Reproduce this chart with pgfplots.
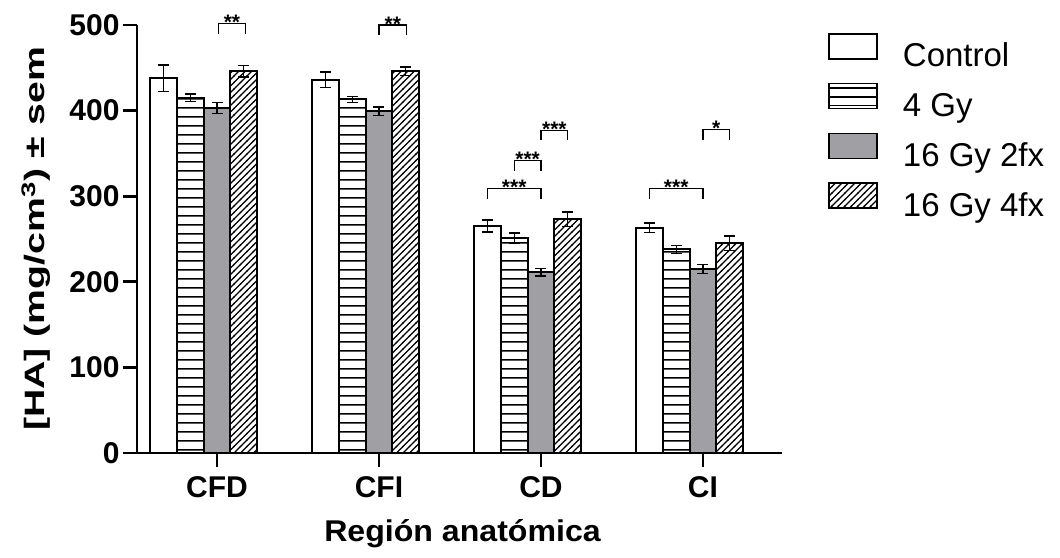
\documentclass[border=0pt]{standalone}
\usepackage{pgfplots}
\pgfplotsset{compat=1.18}
\usepackage{pgfplotstable}
\usepackage{fontspec}
\setmainfont{Liberation Sans}
\usetikzlibrary{patterns}
\definecolor{bargray}{RGB}{160,160,164}

\pgfdeclarepatternformonly{hlinesw}{\pgfqpoint{0pt}{0pt}}{\pgfqpoint{300pt}{8.6pt}}{\pgfqpoint{300pt}{8.6pt}}{%
  \pgfsetlinewidth{1.6pt}%
  \pgfpathmoveto{\pgfqpoint{-1pt}{4.3pt}}\pgfpathlineto{\pgfqpoint{301pt}{4.3pt}}\pgfusepath{stroke}}
\pgfdeclarepatternformonly{nelinesw}{\pgfqpoint{-1pt}{-1pt}}{\pgfqpoint{7.5pt}{7.5pt}}{\pgfqpoint{6.5pt}{6.5pt}}{%
  \pgfsetlinewidth{1.4pt}%
  \pgfpathmoveto{\pgfqpoint{-0.4pt}{-0.4pt}}\pgfpathlineto{\pgfqpoint{6.9pt}{6.9pt}}\pgfusepath{stroke}}

\pgfplotstableread{
x c ce ga gae gb gbe gc gce
0 438 15.5 415 4.3 403 6.5 446 6.7
1 436 9 413 3.5 399 5 446 4.7
2 265 7 251 5.8 211 4.3 273 8.5
3 263 5.5 238 4.7 215 5.2 245 8.4
}\datatable

\pgfplotsset{
  errstyle/.style={
    error bars/.cd, y dir=both, y explicit,
    error bar style={line width=1.5pt, black},
    error mark options={rotate=90, line width=1.5pt, mark size=5.5pt, black}},
  bracket/.style={forget plot, sharp plot, no marks, black, line width=1.5pt},
}

\begin{document}
\begin{tikzpicture}
\useasboundingbox (-137pt,-104pt) rectangle (923pt,453pt);
\begin{axis}[
 at={(0pt,0pt)}, anchor=south west,
 scale only axis, width=645pt, height=428pt,
 xmin=-0.494, xmax=3.488, ymin=0, ymax=500,
 axis x line*=bottom, axis y line*=left,
 bar width=26.7pt,
 xtick={0,1,2,3}, xticklabels={CFD,CFI,CD,CI},
 ytick={0,100,200,300,400,500},
 tick align=outside, major tick length=14pt,
 axis line style={-, line width=2.7pt},
 major tick style={line width=2.7pt, black},
 ticklabel style={font=\bfseries\fontsize{30}{36}\selectfont},
 xticklabel style={yshift=-6pt},
 /pgf/number format/assume math mode=true,
 clip=false,
 xlabel={\scalebox{1.07}[1]{Región anatómica}},
 xlabel style={font=\bfseries\fontsize{30}{36}\selectfont, at={(axis description cs:0.5047,-0.2079)}, anchor=base},
 ylabel={\scalebox{1.4}[1]{[HA] (mg/cm\textsuperscript{3}) ± sem}},
 ylabel style={font=\bfseries\fontsize{28}{34}\selectfont, at={(axis description cs:-0.1566,0.5)}, anchor=center},
 legend cell align=left,
 legend image code/.code={\draw[#1, line width=1.5pt] (0pt,-1pt) rectangle (48pt,24pt); \path (73pt,0pt);},
 legend style={at={(1,1)}, anchor=north west, xshift=46pt, yshift=-8pt, draw=none, fill=none, inner sep=0pt,
   font=\fontsize{33}{40}\selectfont, row sep=8pt,
   nodes={text height=26pt, text depth=8pt, inner sep=0pt}},
]
\addplot[ybar, bar shift=0pt, draw=black, line width=2pt, fill=white, errstyle]
  table[x expr=\thisrow{x}-0.3296, y=c, y error=ce]{\datatable};
\addlegendentry{Control}
\addplot[ybar, bar shift=0pt, draw=black, line width=2pt, pattern=hlinesw, pattern color=black, errstyle]
  table[x expr=\thisrow{x}-0.1648, y=ga, y error=gae]{\datatable};
\addlegendentry{4 Gy}
\addplot[ybar, bar shift=0pt, draw=black, line width=2pt, fill=bargray, errstyle]
  table[x=x, y=gb, y error=gbe]{\datatable};
\addlegendentry{16 Gy 2fx}
\addplot[ybar, bar shift=0pt, draw=black, line width=2pt, pattern=nelinesw, pattern color=black, errstyle]
  table[x expr=\thisrow{x}+0.1648, y=gc, y error=gce]{\datatable};
\addlegendentry{16 Gy 4fx}

% significance brackets
\addplot[bracket] coordinates {(0.01,490) (0.01,502) (0.175,502) (0.175,490)};
\addplot[bracket] coordinates {(1.0,488) (1.0,500) (1.17,500) (1.17,488)};
\addplot[bracket] coordinates {(1.67,297) (1.67,309) (2.0,309) (2.0,297)};
\addplot[bracket] coordinates {(1.835,330) (1.835,341.5) (2.0,341.5) (2.0,330)};
\addplot[bracket] coordinates {(2.0,366) (2.0,377) (2.165,377) (2.165,366)};
\addplot[bracket] coordinates {(2.67,297) (2.67,309) (3.0,309) (3.0,297)};
\addplot[bracket] coordinates {(3.0,366) (3.0,378) (3.165,378) (3.165,366)};

\begin{scope}[every node/.style={font=\bfseries\fontsize{21}{24}\selectfont, inner sep=0pt, anchor=base}]
\node at (axis cs:0.0925,502) [yshift=-6pt] {**};
\node at (axis cs:1.085,500) [yshift=-6pt] {**};
\node at (axis cs:1.835,309) [yshift=-6pt] {***};
\node at (axis cs:1.9175,341.5) [yshift=-6pt] {***};
\node at (axis cs:2.0825,377) [yshift=-6pt] {***};
\node at (axis cs:2.835,309) [yshift=-6pt] {***};
\node at (axis cs:3.0825,378) [yshift=-6pt] {*};
\end{scope}
\end{axis}
\end{tikzpicture}
\end{document}
